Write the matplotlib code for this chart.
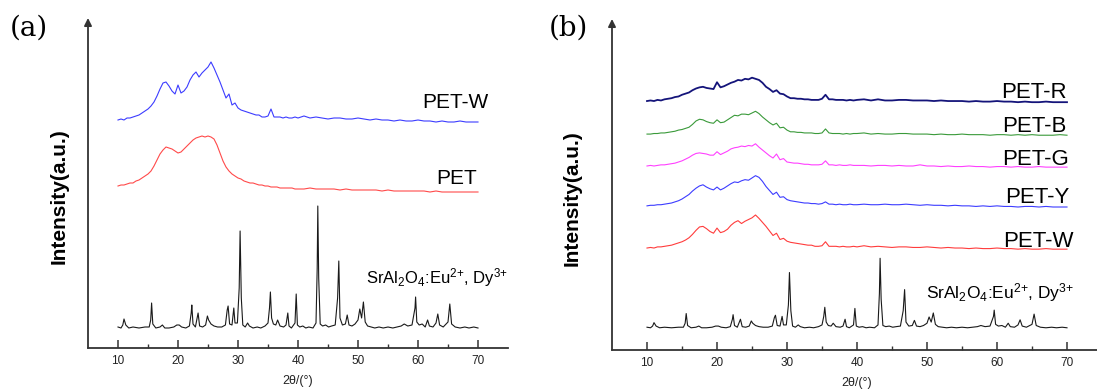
import matplotlib
matplotlib.use('Agg')
import matplotlib.pyplot as plt
import numpy as np

plt.rcParams['font.family'] = ['Liberation Sans', 'DejaVu Sans']
plt.rcParams['mathtext.default'] = 'regular'

# 2θ grid for the polymer curves
theta_pet = np.r_[np.arange(10, 40.5, 0.5), np.arange(41, 71)]

# intensities above each curve's own baseline (a.u.)
pet = [0, 1, 1, 2, 3, 3, 5, 6, 8, 10, 12, 15, 20, 26, 32, 36, 39, 38, 37, 35,
       33, 34, 37, 40, 43, 46, 48, 49, 50, 49, 50, 49, 47, 41, 33, 25, 19, 15, 12, 10,
       8, 7, 5, 4, 3, 3, 2, 1, 1, 0, 0, -1, -1, -1, -2, -2, -2, -2, -2, -3, -3,
       -3, -2, -3, -3, -3, -3, -4, -3, -4, -4, -4, -4, -4, -5, -4, -5, -5, -5, -5, -5,
       -5, -6, -5, -6, -6, -6, -6, -6, -6, -6]
pet_w = [0, 1, 0, 2, 2, 3, 4, 5, 7, 9, 11, 14, 18, 24, 31, 37, 38, 34, 29, 26,
         35, 27, 29, 33, 40, 45, 48, 43, 47, 50, 53, 58, 52, 45, 38, 30, 22, 26, 15, 17,
         12, 10, 9, 8, 7, 6, 5, 5, 3, 3, 4, 11, 3, 3, 3, 2, 3, 2, 2, 3, 2,
         4, 2, 3, 2, 1, 2, 2, 1, 1, 2, 1, 0, 1, 0, 0, -1, 0, -1, -1, 0,
         -1, -1, -2, -1, -2, -2, -1, -2, -2, -2]
pet_y = [0, 1, 1, 2, 2, 3, 4, 5, 7, 9, 12, 16, 20, 26, 31, 35, 37, 33, 30, 28,
         33, 28, 31, 35, 39, 42, 41, 44, 46, 45, 49, 53, 50, 43, 34, 27, 20, 24, 15, 16,
         11, 9, 8, 7, 6, 5, 5, 4, 4, 3, 4, 7, 3, 3, 2, 3, 2, 2, 3, 2, 2,
         3, 2, 2, 3, 2, 2, 3, 2, 1, 2, 1, 1, 0, 1, 0, 0, -1, 0, -1, 0,
         -1, -1, -2, -1, -1, -2, -1, -2, -2, -2]
pet_g = [0, 1, 0, 1, 2, 2, 3, 4, 5, 7, 9, 12, 15, 19, 22, 23, 22, 21, 19, 19,
         25, 20, 23, 26, 30, 32, 33, 35, 34, 36, 35, 39, 33, 28, 23, 18, 14, 21, 11, 13,
         7, 6, 5, 5, 4, 3, 3, 2, 2, 2, 3, 9, 2, 2, 1, 2, 1, 1, 2, 1, 1,
         1, 0, 1, 1, 0, 1, 0, 0, 2, 0, 0, -1, 0, -1, -1, 0, -1, -1, -2, -1,
         -1, -2, -1, -2, -2, -1, -2, -2, -2, -2]
pet_b = [0, 0, 1, 1, 2, 2, 3, 4, 5, 7, 8, 10, 12, 17, 23, 26, 25, 22, 20, 19,
         25, 20, 21, 25, 29, 33, 32, 35, 35, 34, 37, 40, 36, 30, 25, 20, 16, 19, 11, 12,
         7, 4, 4, 3, 3, 2, 2, 2, 1, 1, 2, 9, 2, 1, 1, 1, 0, 1, 0, 1, 1,
         2, 0, 1, 0, 0, 1, 1, 0, 0, 0, -1, 0, -1, -1, 0, -1, -1, -1, -2, -1,
         -1, -2, -1, -2, -1, -2, -2, -2, -1, -2]
pet_r = [0, 1, 0, 2, 1, 3, 4, 5, 7, 8, 11, 13, 15, 19, 22, 24, 25, 23, 22, 21,
         33, 24, 26, 29, 32, 34, 37, 36, 39, 38, 41, 39, 37, 32, 25, 21, 16, 19, 13, 12,
         8, 5, 5, 4, 4, 3, 3, 2, 2, 2, 4, 11, 3, 3, 2, 2, 2, 1, 2, 1, 2,
         3, 1, 3, 1, 1, 2, 2, 1, 1, 1, 0, 1, 0, 0, 0, -1, 0, -1, -1, 0,
         -1, -1, -2, -1, -2, -2, -1, -2, -2, -2]

# SrAl2O4:Eu2+,Dy3+ powder pattern
theta_sao = [10, 10.5, 10.8, 11.0, 11.3, 11.8, 12.5, 13.5, 14.5, 15.2, 15.45, 15.6, 15.8, 16.3,
             17.0, 17.4, 17.8, 18.5, 19.3, 19.8, 20.2, 20.6, 21.3, 21.9, 22.2, 22.3, 22.5, 22.9,
             23.2, 23.35, 23.6, 24.1, 24.6, 24.9, 25.1, 25.5, 26.0, 26.6, 27.3, 27.9, 28.2, 28.35,
             28.6, 29.0, 29.3, 29.5, 29.9, 30.2, 30.35, 30.55, 30.8, 31.2, 31.6, 31.9, 32.5, 33.2,
             33.8, 34.5, 35.0, 35.25, 35.4, 35.6, 35.9, 36.3, 36.6, 37.0, 37.6, 38.0, 38.3, 38.5,
             38.9, 39.5, 39.7, 39.9, 40.3, 40.8, 41.3, 41.8, 42.5, 43.0, 43.2, 43.3, 43.45, 43.7,
             44.1, 44.6, 45.1, 45.6, 46.2, 46.6, 46.8, 47.0, 47.4, 47.9, 48.2, 48.5, 49.0, 49.5,
             50.0, 50.3, 50.6, 50.9, 51.2, 51.6, 52.2, 52.8, 53.5, 54.2, 55.0, 55.8, 56.5, 57.2,
             57.7, 58.3, 59.0, 59.5, 59.6, 59.8, 60.2, 60.7, 61.2, 61.6, 61.9, 62.5, 63.0, 63.3,
             63.6, 64.2, 65.0, 65.3, 65.6, 66.2, 67.0, 67.8, 68.5, 69.3, 70.0]
sao = [1, 0, 3, 9, 3, 0, 1, 0, 1, 1, 8, 25, 4, 0,
       1, 3, 0, 0, 1, 3, 3, 1, 0, 2, 15, 23, 4, 1,
       10, 15, 2, 1, 3, 12, 8, 4, 2, 1, 1, 3, 18, 22,
       4, 3, 20, 5, 5, 40, 97, 30, 3, 1, 5, 2, 0, 1,
       0, 2, 5, 20, 36, 10, 4, 3, 8, 2, 1, 3, 15, 2,
       0, 5, 34, 3, 1, 2, 0, 1, 0, 5, 60, 122, 50, 4,
       2, 3, 1, 2, 3, 30, 67, 10, 3, 4, 13, 3, 2, 4,
       8, 19, 10, 26, 6, 2, 1, 0, 1, 0, 1, 0, 1, 2,
       4, 2, 3, 20, 31, 6, 3, 4, 1, 8, 2, 1, 5, 14,
       3, 1, 6, 24, 4, 1, 0, 1, 0, 1, 0]

sao_label = r'SrAl$_2$O$_4$:Eu$^{2{+}}$, Dy$^{3{+}}$'

fig = plt.figure(figsize=(10.97, 3.92), dpi=100)
ax_a = fig.add_axes([88 / 1097, 44 / 392, 420 / 1097, 330 / 392])
ax_b = fig.add_axes([612 / 1097, 42 / 392, 490 / 1097, 331 / 392])

axis_col = '#333333'


def style_axes(ax, ymax, ylab_x):
    ax.set_xlim(5, 75)
    ax.set_ylim(0, ymax)
    for s in ['top', 'right', 'left']:
        ax.spines[s].set_visible(False)
    ax.spines['bottom'].set_color(axis_col)
    ax.spines['bottom'].set_linewidth(1.3)
    ax.set_xticks(range(10, 71, 10))
    ax.set_xticks(range(15, 70, 10), minor=True)
    ax.tick_params(axis='x', which='major', direction='in', length=6, width=1.1,
                   color=axis_col, labelsize=8.5, labelcolor='#222222', pad=5)
    ax.tick_params(axis='x', which='minor', direction='in', length=3, width=1.0,
                   color=axis_col)
    ax.set_yticks([])
    ax.annotate('', xy=(0, 1), xytext=(0, 0), xycoords='axes fraction',
                arrowprops=dict(arrowstyle='-|>', color=axis_col, lw=1.3,
                                mutation_scale=11, shrinkA=0, shrinkB=0),
                annotation_clip=False)
    ax.set_xlabel('2θ/(°)', fontsize=9, color='#222222', labelpad=6)
    ax.set_ylabel('Intensity(a.u.)', fontsize=15, fontweight='bold')
    ax.yaxis.set_label_coords(ylab_x, 0.46)


style_axes(ax_a, 330, -0.046)
style_axes(ax_b, 581, -0.063)

lw = 0.8
# panel (a)
ax_a.plot(theta_sao, np.array(sao) + 20, color='#1a1a1a', lw=lw)
ax_a.plot(theta_pet, np.array(pet) + 162, color='#ff4a4a', lw=lw)
ax_a.plot(theta_pet, np.array(pet_w) + 228, color='#3c3cff', lw=lw)
ax_a.text(71.7, 246, 'PET-W', fontsize=15, ha='right', va='center')
ax_a.text(69.8, 169, 'PET', fontsize=15, ha='right', va='center')
ax_a.text(51.3, 70, sao_label, fontsize=12, ha='left', va='center')

# panel (b)
ax_b.plot(theta_sao, np.array(sao) + 39, color='#1a1a1a', lw=lw)
ax_b.plot(theta_pet, np.array(pet_w) + 179, color='#ff3c3c', lw=lw)
ax_b.plot(theta_pet, np.array(pet_y) + 253, color='#3c3cff', lw=lw)
ax_b.plot(theta_pet, np.array(pet_g) + 323, color='#ff40ff', lw=lw)
ax_b.plot(theta_pet, np.array(pet_b) + 379, color='#3a9a3a', lw=lw)
ax_b.plot(theta_pet, np.array(pet_r) + 437, color='#14147a', lw=1.3)
for name, ypos, xr in [('PET-R', 452, 69.9), ('PET-B', 393, 69.9), ('PET-G', 335, 70.2),
                       ('PET-Y', 267, 70.3), ('PET-W', 190, 70.9)]:
    ax_b.text(xr, ypos, name, fontsize=16, ha='right', va='center')
ax_b.text(49.9, 100, sao_label, fontsize=12.5, ha='left', va='center')

fig.text(29 / 1097, 1 - 28 / 392, '(a)', family='DejaVu Serif', fontsize=20,
         ha='center', va='center')
fig.text(568 / 1097, 1 - 28 / 392, '(b)', family='DejaVu Serif', fontsize=20,
         ha='center', va='center')

fig.savefig('out.png', dpi=100)
